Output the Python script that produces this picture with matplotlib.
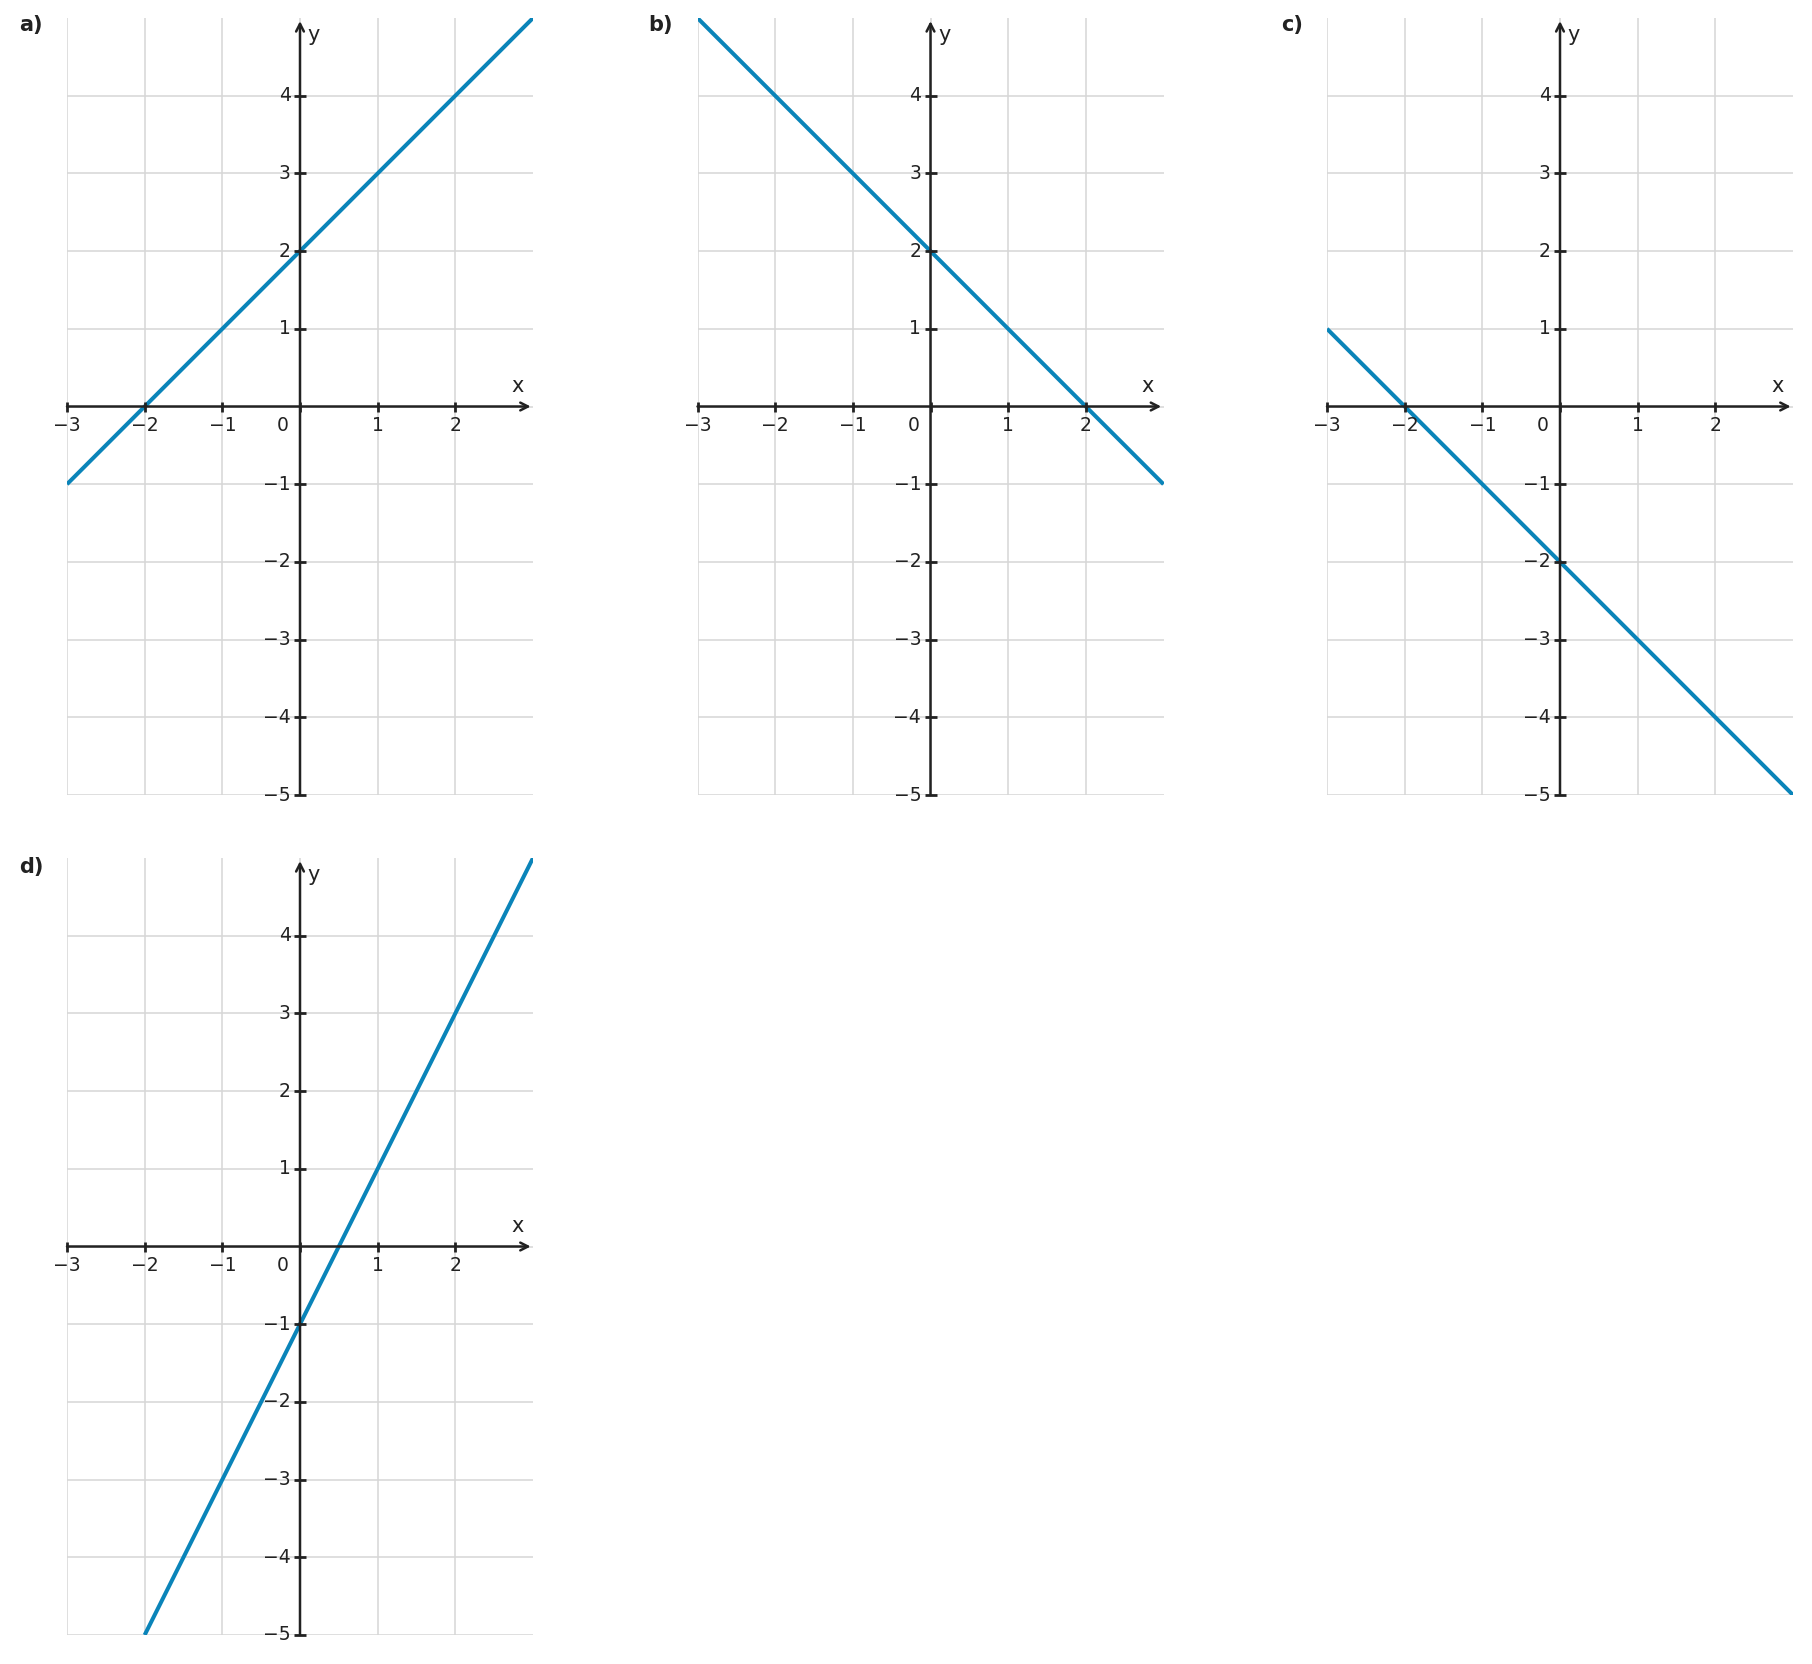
import numpy as np
import matplotlib.pyplot as plt

# --------------------------------------------------
# data
# --------------------------------------------------
panel_labels = ["a)", "b)", "c)", "d)"]

line_x = [[-3, 3], [-3, 3], [-3, 3], [-2, 3]]
line_y = [[-1, 5], [5, -1], [1, -5], [-5, 5]]

x_ticks = [-3, -2, -1, 0, 1, 2]
y_ticks = [-5, -4, -3, -2, -1, 1, 2, 3, 4]
x_grid = [-3, -2, -1, 0, 1, 2]
y_grid = [-5, -4, -3, -2, -1, 0, 1, 2, 3, 4]

# --------------------------------------------------
# layout (pixels of the 1812x1664 figure)
# --------------------------------------------------
W, H = 1812, 1664
panel_w, panel_h = 466, 777
panel_left = [67, 697.5, 1327, 67]
panel_top = [18, 18, 18, 858]
label_xy = [(31, 25), (661, 25), (1292, 25), (31, 867)]

LINE_COLOR = "#0a84b9"
AX_COLOR = "#222222"
GRID_COLOR = "#d6d6d6"

fig = plt.figure(figsize=(W / 100, H / 100), dpi=100)

for i in range(4):
    left = panel_left[i] / W
    bottom = 1 - (panel_top[i] + panel_h) / H
    ax = fig.add_axes([left, bottom, panel_w / W, panel_h / H])
    ax.set_xlim(-3, 3)
    ax.set_ylim(-5, 5)
    ax.axis("off")

    # grid
    ax.vlines(x_grid, -5, 5, color=GRID_COLOR, lw=1.1, zorder=1)
    ax.hlines(y_grid, -3, 3, color=GRID_COLOR, lw=1.1, zorder=1)

    # the function graph
    ax.plot(line_x[i], line_y[i], color=LINE_COLOR, lw=2.9,
            solid_capstyle="butt", zorder=2)

    # coordinate axes with arrows
    ax.annotate("", xy=(2.97, 0), xytext=(-3, 0),
                arrowprops=dict(arrowstyle="->,head_length=0.55,head_width=0.28",
                                lw=1.8, color=AX_COLOR, shrinkA=0, shrinkB=0),
                zorder=3, annotation_clip=False)
    ax.annotate("", xy=(0, 4.96), xytext=(0, -5),
                arrowprops=dict(arrowstyle="->,head_length=0.55,head_width=0.28",
                                lw=1.8, color=AX_COLOR, shrinkA=0, shrinkB=0),
                zorder=3, annotation_clip=False)

    # tick marks
    ax.plot(x_ticks, [0] * len(x_ticks), ls="none", marker="|",
            ms=7, mew=2, color=AX_COLOR, zorder=4, clip_on=False)
    ax.plot([0] * len(y_ticks), y_ticks, ls="none", marker="_",
            ms=8, mew=2, color=AX_COLOR, zorder=4, clip_on=False)

    # tick labels
    for xv in x_ticks:
        lab = "0" if xv == 0 else f"{xv}".replace("-", "\u2212")
        xpos = -0.22 if xv == 0 else xv
        ax.text(xpos, -0.24, lab, ha="center", va="center",
                fontsize=13.5, color=AX_COLOR)
    for yv in y_ticks:
        ax.text(-0.12, yv, f"{yv}".replace("-", "\u2212"), ha="right",
                va="center", fontsize=13.5, color=AX_COLOR)

    # axis names
    ax.text(2.8, 0.26, "x", ha="center", va="center", fontsize=15,
            color=AX_COLOR)
    ax.text(0.18, 4.78, "y", ha="center", va="center", fontsize=15,
            color=AX_COLOR)

    fig.text(label_xy[i][0] / W, 1 - label_xy[i][1] / H, panel_labels[i],
             ha="center", va="center", fontsize=15, fontweight="bold",
             color=AX_COLOR)

fig.savefig("out.png", dpi=100)
